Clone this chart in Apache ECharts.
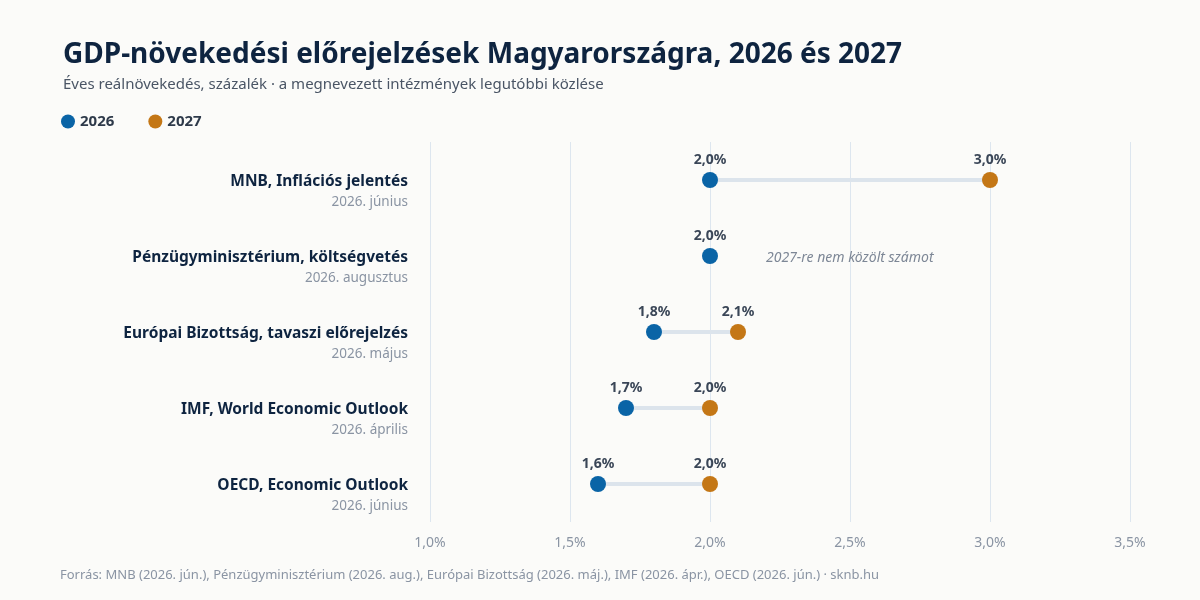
<!DOCTYPE html>
<html><head><meta charset="utf-8">
<script src="https://cdn.jsdelivr.net/npm/echarts@6/dist/echarts.min.js"></script>
<style>html,body{margin:0;background:#fbfbf9}#c{width:1200px;height:600px}</style>
</head><body><div id="c"></div>
<script>
const institutions = ["MNB, Inflációs jelentés","Pénzügyminisztérium, költségvetés","Európai Bizottság, tavaszi előrejelzés","IMF, World Economic Outlook","OECD, Economic Outlook"];
const dates = ["2026. június","2026. augusztus","2026. május","2026. április","2026. június"];
const v2026 = [2.0, 2.0, 1.8, 1.7, 1.6];
const v2027 = [3.0, null, 2.1, 2.0, 2.0];
const notes = [null, "2027-re nem közölt számot", null, null, null];
const xTicks = [1.0, 1.5, 2.0, 2.5, 3.0, 3.5];

const fmt = v => v.toFixed(1).replace('.', ',') + '%';
const chart = echarts.init(document.getElementById('c'));
const FF = '"Noto Sans", sans-serif';
const pointLabel = {show:true, position:'top', distance:5, formatter:p=>fmt(p.value[0]), fontFamily:FF, fontSize:14, fontWeight:'bold', color:'#3a4657'};
chart.setOption({
  backgroundColor:'#fbfbf9',
  textStyle:{fontFamily:FF},
  title:{text:'GDP-növekedési előrejelzések Magyarországra, 2026 és 2027', left:58, top:36,
    textStyle:{fontSize:28, fontWeight:'bold', color:'#0e2440', fontFamily:FF},
    subtext:'Éves reálnövekedés, százalék · a megnevezett intézmények legutóbbi közlése', itemGap:8,
    subtextStyle:{fontSize:15, color:'#4a5565', fontFamily:FF}},
  legend:{left:56, top:109, icon:'circle', itemWidth:14, itemHeight:14, itemGap:34,
    textStyle:{fontSize:15, fontWeight:'bold', color:'#2e3a4a', fontFamily:FF}, data:['2026','2027']},
  grid:{left:430, right:70, top:142, bottom:78},
  xAxis:{type:'value', min:1.0, max:3.5, interval:0.5,
    axisLine:{show:false}, axisTick:{show:false},
    splitLine:{lineStyle:{color:'#dde6ef'}},
    axisLabel:{formatter:v=>fmt(v), color:'#8a94a3', fontSize:14, margin:14, fontFamily:FF}},
  yAxis:{type:'category', inverse:true, data:institutions,
    axisLine:{show:false}, axisTick:{show:false},
    axisLabel:{margin:22, align:'right', padding:[22,0,0,0], formatter:(v,i)=>'{a|'+v+'}\n{b|'+dates[i]+'}',
      rich:{a:{fontSize:15.5, fontWeight:'bold', color:'#0e2440', fontFamily:FF, lineHeight:22, align:'right'},
            b:{fontSize:13.5, color:'#8a94a3', fontFamily:FF, lineHeight:18, align:'right'}}}},
  graphic:[{type:'text', left:60, top:569, style:{text:'Forrás: MNB (2026. jún.), Pénzügyminisztérium (2026. aug.), Európai Bizottság (2026. máj.), IMF (2026. ápr.), OECD (2026. jún.) · sknb.hu', fontSize:13, fill:'#8a94a3', fontFamily:FF}}],
  series:[
    {type:'custom', silent:true, z:1,
     data: institutions.map((n,i)=>[v2026[i], v2027[i], i]),
     renderItem:(params, api)=>{
       const i = params.dataIndex; const a = v2026[i], b = v2027[i];
       if (b == null) {
         const p = api.coord([2.2, i]);
         return {type:'text', x:p[0], y:p[1]+2, style:{text:notes[i], fill:'#7d8796', fontSize:14, fontStyle:'italic', fontFamily:FF, align:'left', verticalAlign:'middle'}};
       }
       const p1 = api.coord([a, i]), p2 = api.coord([b, i]);
       return {type:'line', shape:{x1:p1[0], y1:p1[1], x2:p2[0], y2:p2[1]}, style:{stroke:'#dce4ec', lineWidth:4}};
     }},
    {name:'2026', type:'scatter', symbolSize:16, z:3, itemStyle:{color:'#0a64a6', opacity:1},
     data:v2026.map((v,i)=>[v,i]), label:pointLabel},
    {name:'2027', type:'scatter', symbolSize:16, z:3, itemStyle:{color:'#c47716', opacity:1},
     data:v2027.map((v,i)=>v==null?null:[v,i]).filter(d=>d), label:pointLabel}
  ]
});
</script></body></html>
